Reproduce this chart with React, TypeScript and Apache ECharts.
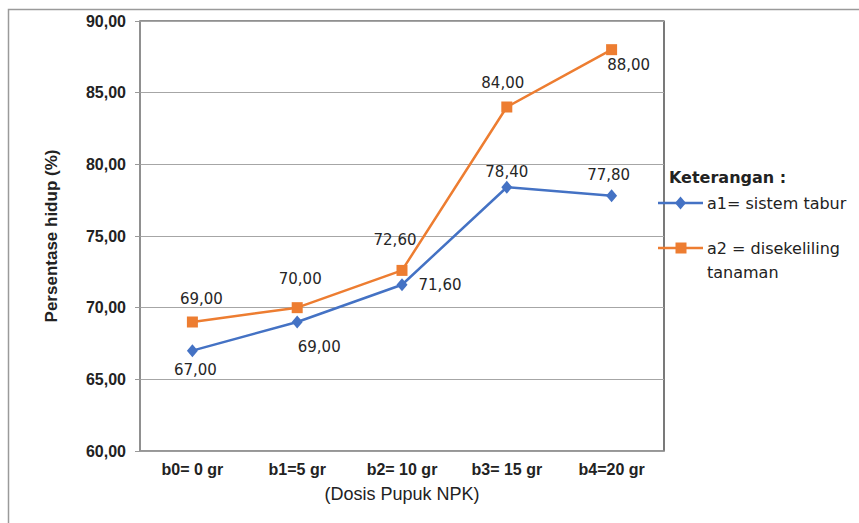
import React, { useEffect, useRef } from "react";
import * as echarts from "echarts";

// Dosis pupuk NPK (perlakuan b) dan persentase hidup tanaman
const categories = ["b0= 0 gr", "b1=5 gr", "b2= 10 gr", "b3= 15 gr", "b4=20 gr"];
const a1Values = [67.0, 69.0, 71.6, 78.4, 77.8];
const a2Values = [69.0, 70.0, 72.6, 84.0, 88.0];
const a1Name = "a1= sistem tabur";
const a2Name = "a2 = disekeliling\ntanaman";
const yTicks = { min: 60, max: 90, interval: 5 };

// label offsets (label centre relative to its point)
const a1LabelOffsets = [[3, 19], [22, 25], [38, 0], [0, -15], [-3, -21]];
const a2LabelOffsets = [[9, -23], [3, -29], [-7, -30], [-4, -24], [17, 15]];

const BLUE = "#4472C4";
const ORANGE = "#ED7D31";
const fmt = (v: number) => v.toFixed(2).replace(".", ",");

export default function App() {
  const ref = useRef<HTMLDivElement>(null);

  useEffect(() => {
    if (!ref.current) return;
    const chart = echarts.init(ref.current, null, { renderer: "svg" });

    const labelStyle = {
      show: true,
      position: "inside" as const,
      color: "#262626",
      fontFamily: "DejaVu Sans",
      fontSize: 15,
      formatter: (p: any) => fmt(p.value),
    };

    const makeData = (vals: number[], offs: number[][]) =>
      vals.map((v, i) => ({ value: v, label: { ...labelStyle, offset: offs[i] } }));

    const legendText = {
      fontFamily: "DejaVu Sans",
      fontSize: 16,
      fill: "#222",
    };

    chart.setOption({
      animation: false,
      backgroundColor: "#fff",
      grid: {
        left: 140,
        top: 21,
        right: 195,
        bottom: 72,
        show: true,
        borderColor: "#222",
        borderWidth: 1.2,
      },
      xAxis: {
        type: "category",
        data: categories,
        boundaryGap: true,
        axisLine: { show: true, lineStyle: { color: "#999", width: 1.5 } },
        axisTick: { show: false },
        axisLabel: {
          color: "#222",
          fontFamily: "Liberation Sans",
          fontWeight: "bold",
          fontSize: 16,
          margin: 10,
        },
        name: "(Dosis Pupuk NPK)",
        nameLocation: "middle",
        nameGap: 34,
        nameTextStyle: {
          color: "#222",
          fontFamily: "Liberation Sans",
          fontSize: 18,
        },
      },
      yAxis: {
        type: "value",
        min: yTicks.min,
        max: yTicks.max,
        interval: yTicks.interval,
        axisLine: { show: true, lineStyle: { color: "#999", width: 1.5 } },
        axisTick: { show: true, length: 5, lineStyle: { color: "#999" } },
        splitLine: { show: true, lineStyle: { color: "#a6a6a6", width: 1.2 } },
        axisLabel: {
          color: "#222",
          fontFamily: "Liberation Sans",
          fontWeight: "bold",
          fontSize: 16,
          margin: 14,
          formatter: (v: number) => fmt(v),
        },
        name: "Persentase hidup (%)",
        nameLocation: "middle",
        nameGap: 80,
        nameTextStyle: {
          color: "#222",
          fontFamily: "Liberation Sans",
          fontWeight: "bold",
          fontSize: 17,
        },
      },
      series: [
        {
          name: a1Name,
          type: "line",
          data: makeData(a1Values, a1LabelOffsets),
          symbol: "diamond",
          symbolSize: [11, 13],
          lineStyle: { color: BLUE, width: 2.5 },
          itemStyle: { color: BLUE },
        },
        {
          name: a2Name,
          type: "line",
          data: makeData(a2Values, a2LabelOffsets),
          symbol: "rect",
          symbolSize: 11,
          lineStyle: { color: ORANGE, width: 2.5 },
          itemStyle: { color: ORANGE },
        },
      ],
      graphic: [
        // outer chart border
        {
          type: "rect",
          shape: { x: 8.5, y: 9.5, width: 900, height: 600 },
          style: { fill: "none", stroke: "#9a9a9a", lineWidth: 1.5 },
          silent: true,
          z: -1,
        },
        // legend
        {
          type: "text",
          x: 669,
          y: 177,
          style: {
            ...legendText,
            text: "Keterangan :",
            fontWeight: "bold",
            verticalAlign: "middle",
          },
        },
        {
          type: "line",
          shape: { x1: 658, y1: 203, x2: 703, y2: 203 },
          style: { stroke: BLUE, lineWidth: 2.5 },
        },
        {
          type: "polygon",
          shape: { points: [[680.5, 196.5], [686, 203], [680.5, 209.5], [675, 203]] },
          style: { fill: BLUE },
        },
        {
          type: "text",
          x: 707,
          y: 203,
          style: { ...legendText, text: a1Name, verticalAlign: "middle" },
        },
        {
          type: "line",
          shape: { x1: 658, y1: 248, x2: 703, y2: 248 },
          style: { stroke: ORANGE, lineWidth: 2.5 },
        },
        {
          type: "rect",
          shape: { x: 675.5, y: 242.5, width: 11, height: 11 },
          style: { fill: ORANGE },
        },
        {
          type: "text",
          x: 707,
          y: 248,
          style: { ...legendText, text: "a2 = disekeliling", verticalAlign: "middle" },
        },
        {
          type: "text",
          x: 707,
          y: 272,
          style: { ...legendText, text: "tanaman", verticalAlign: "middle" },
        },
      ],
    });

    return () => chart.dispose();
  }, []);

  return (
    <div
      ref={ref}
      style={{ position: "fixed", left: 0, top: 0, width: 859, height: 523 }}
    />
  );
}
